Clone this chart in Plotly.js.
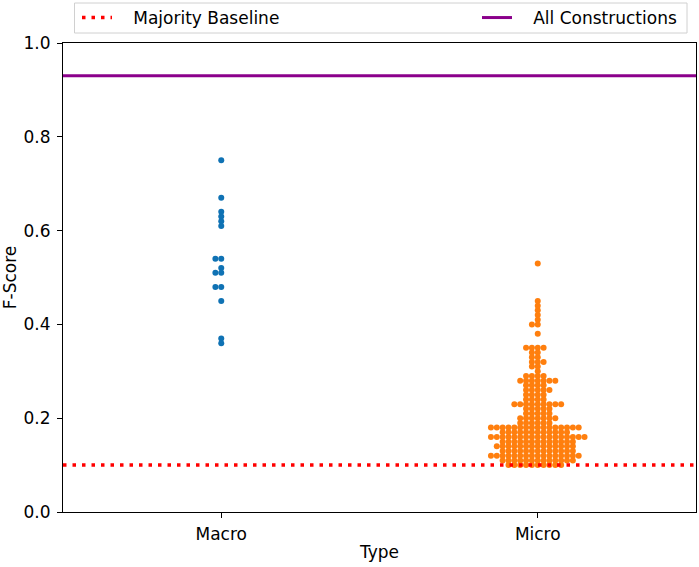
<!DOCTYPE html>
<html>
<head>
<meta charset="utf-8">
<script src="https://cdn.plot.ly/plotly-3.0.1.min.js"></script>
<style>
  html, body { margin: 0; padding: 0; background: #fff; }
  #chart { width: 699px; height: 567px; }
</style>
</head>
<body>
<div id="chart"></div>
<script>
// categories on the x axis
const categories = ['Macro', 'Micro'];

// Macro F-scores, one per point
const macroScores = [0.75, 0.67, 0.64, 0.63, 0.62, 0.61, 0.54, 0.54, 0.52,
  0.51, 0.51, 0.48, 0.48, 0.45, 0.37, 0.36];

// Micro F-scores, read as score level -> number of points in the swarm row
const microLevels = [0.10, 0.11, 0.12, 0.13, 0.14, 0.15, 0.16, 0.17, 0.18, 0.19,
  0.20, 0.21, 0.22, 0.23, 0.24, 0.25, 0.26, 0.27, 0.28, 0.29,
  0.30, 0.31, 0.32, 0.33, 0.34, 0.35, 0.38, 0.40, 0.41, 0.42,
  0.43, 0.44, 0.45, 0.53];
const microCounts = [10, 13, 16, 13, 14, 13, 17, 12, 16, 6,
  7, 5, 5, 9, 4, 4, 5, 4, 7, 4,
  1, 2, 3, 2, 2, 4, 1, 2, 1, 1,
  1, 1, 1, 1];

const majorityBaseline = 0.10;
const allConstructions = 0.93;

const colors = ['#0f72b4', '#ff7f0e'];

// layout sizes (pixels)
const W = 699, H = 567;
const margin = { l: 63, r: 3, t: 43, b: 55, pad: 0 };
const xRange = [-0.5, 1.5];
const plotW = W - margin.l - margin.r;
const dotGap = 5.85; // px between neighbouring swarm dots
const step = dotGap / plotW * (xRange[1] - xRange[0]);

const microScores = [];
microLevels.forEach((v, i) => {
  for (let k = 0; k < microCounts[i]; k += 1) microScores.push(v);
});

// simple swarm: points sharing a value go centre, left, right, left, ...
function swarm(values, center) {
  const seen = {};
  return values.map((v) => {
    const key = v.toFixed(4);
    const k = seen[key] || 0;
    seen[key] = k + 1;
    const idx = k % 2 === 1 ? -(k + 1) / 2 : k / 2;
    return center + idx * step;
  });
}

const font = { family: 'DejaVu Sans, sans-serif', size: 17, color: '#000' };
const pad = '\u00a0\u00a0\u00a0'; // gap between legend sample and label

const traces = [
  {
    x: swarm(macroScores, 0), y: macroScores, type: 'scatter', mode: 'markers',
    marker: { color: colors[0], size: 6 }, showlegend: false, hoverinfo: 'y',
  },
  {
    x: swarm(microScores, 1), y: microScores, type: 'scatter', mode: 'markers',
    marker: { color: colors[1], size: 6 }, showlegend: false, hoverinfo: 'y',
  },
  {
    x: xRange, y: [majorityBaseline, majorityBaseline], type: 'scatter', mode: 'lines',
    name: pad + 'Majority Baseline', line: { color: '#ff0000', width: 3.5, dash: '3.5px,6px' },
    legend: 'legend',
  },
  {
    x: xRange, y: [allConstructions, allConstructions], type: 'scatter', mode: 'lines',
    name: pad + 'All Constructions', line: { color: '#8b008b', width: 3 },
    legend: 'legend2',
  },
];

const paperY = (px) => (H - margin.b - px) / (H - margin.t - margin.b);
const paperX = (px) => (px - margin.l) / plotW;

const legendBase = {
  orientation: 'h', yref: 'container', yanchor: 'top', xanchor: 'left', y: 1,
  bgcolor: 'rgba(0,0,0,0)', borderwidth: 0, font: font, itemwidth: 30,
};

const layout = {
  width: W, height: H, margin: margin,
  paper_bgcolor: '#fff', plot_bgcolor: '#fff',
  font: font,
  xaxis: {
    range: xRange, tickvals: [0, 1], ticktext: categories,
    showgrid: false, zeroline: false, showline: true, mirror: true,
    linecolor: '#000', linewidth: 1, ticks: 'outside', ticklen: 5, tickwidth: 1,
    tickcolor: '#000', ticklabelstandoff: 2,
    title: { text: 'Type', font: font, standoff: 2 },
  },
  yaxis: {
    range: [0, 1], tickvals: [0, 0.2, 0.4, 0.6, 0.8, 1.0], tickformat: '.1f',
    showgrid: false, zeroline: false, showline: true, mirror: true,
    linecolor: '#000', linewidth: 1, ticks: 'outside', ticklen: 5, tickwidth: 1,
    tickcolor: '#000', ticklabelstandoff: 3,
    title: { text: 'F-Score', font: font, standoff: 6 },
  },
  legend: Object.assign({}, legendBase, { x: paperX(77) }),
  legend2: Object.assign({}, legendBase, { x: paperX(477) }),
  shapes: [{
    type: 'rect', xref: 'paper', yref: 'paper', layer: 'below',
    x0: paperX(74.5), x1: paperX(687), y0: paperY(33), y1: paperY(3),
    line: { color: '#d0d0d0', width: 1 }, fillcolor: '#fff',
  }],
  showlegend: true,
};

Plotly.newPlot('chart', traces, layout, { displayModeBar: false, staticPlot: true });
</script>
</body>
</html>
